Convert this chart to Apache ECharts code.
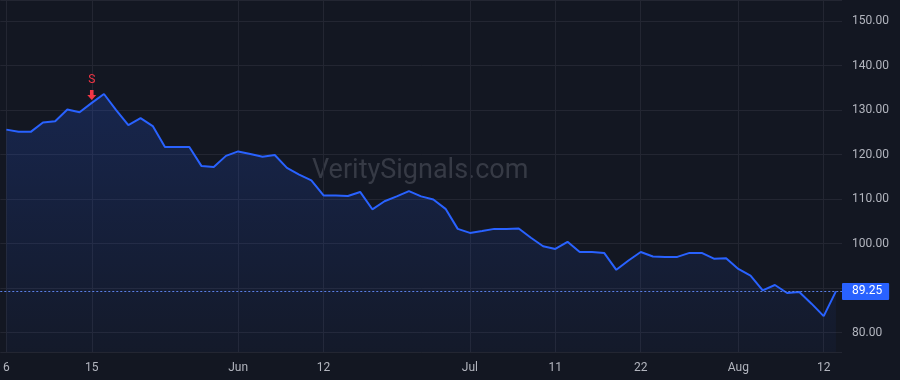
<!DOCTYPE html>
<html>
<head>
    <meta charset="UTF-8">
    <title>Price chart</title>
    <script src="https://cdn.jsdelivr.net/npm/echarts@6/dist/echarts.min.js"></script>
    <style>
        html, body { margin: 0; padding: 0; background: #131722; }
        #chart { width: 900px; height: 380px; }
    </style>
</head>
<body>
    <div id="chart"></div>

    <script>
        // Trading days (May 6 - Aug 13)
        var dates = [
            '2024-05-06', '2024-05-07', '2024-05-08', '2024-05-09', '2024-05-10', '2024-05-13', '2024-05-14',
            '2024-05-15', '2024-05-16', '2024-05-17', '2024-05-20', '2024-05-21', '2024-05-22', '2024-05-23',
            '2024-05-24', '2024-05-28', '2024-05-29', '2024-05-30', '2024-05-31',
            '2024-06-03', '2024-06-04', '2024-06-05', '2024-06-06', '2024-06-07', '2024-06-10', '2024-06-11',
            '2024-06-12', '2024-06-13', '2024-06-14', '2024-06-17', '2024-06-18', '2024-06-20', '2024-06-21',
            '2024-06-24', '2024-06-25', '2024-06-26', '2024-06-27', '2024-06-28',
            '2024-07-01', '2024-07-02', '2024-07-03', '2024-07-05', '2024-07-08', '2024-07-09', '2024-07-10',
            '2024-07-11', '2024-07-12', '2024-07-15', '2024-07-16', '2024-07-17', '2024-07-18', '2024-07-19',
            '2024-07-22', '2024-07-23', '2024-07-24', '2024-07-25', '2024-07-26', '2024-07-29', '2024-07-30',
            '2024-07-31',
            '2024-08-01', '2024-08-02', '2024-08-05', '2024-08-06', '2024-08-07', '2024-08-08', '2024-08-09',
            '2024-08-12', '2024-08-13'
        ];

        var closes = [
            125.6, 125.1, 125.1, 127.2, 127.5, 130.1, 129.5,
            131.6, 133.6, 130.0, 126.6, 128.2, 126.4, 121.7,
            121.7, 121.7, 117.4, 117.2, 119.7,
            120.7, 120.1, 119.5, 119.9, 117.0, 115.5, 114.2,
            110.8, 110.8, 110.7, 111.6, 107.7, 109.5, 110.6,
            111.8, 110.6, 109.9, 107.8, 103.3,
            102.4, 102.8, 103.3, 103.3, 103.4, 101.3, 99.4,
            98.8, 100.4, 98.1, 98.1, 97.9, 94.1, 96.2,
            98.1, 97.1, 97.0, 97.0, 97.9, 97.9, 96.6,
            96.7,
            94.3, 92.8, 89.5, 90.7, 88.9, 89.1, 86.5,
            83.7, 89.25
        ];

        // x axis tick labels
        var tickDates = ['2024-05-06', '2024-05-15', '2024-06-03', '2024-06-12', '2024-07-01',
                         '2024-07-11', '2024-07-22', '2024-08-01', '2024-08-12'];
        var tickLabels = ['6', '15', 'Jun', '12', 'Jul', '11', '22', 'Aug', '12'];

        var signalDate = '2024-05-15';
        var signalText = 'S';
        var lastPrice = 89.25;

        function isTick(index) {
            return tickDates.indexOf(dates[index]) >= 0;
        }

        var chart = echarts.init(document.getElementById('chart'));

        var option = {
            backgroundColor: '#131722',
            animation: false,
            textStyle: { fontFamily: 'Roboto, "Liberation Sans", sans-serif' },
            grid: { left: 0, right: 58, top: 0, bottom: 28 },
            graphic: [{
                type: 'text',
                left: 312,
                top: 158,
                silent: true,
                style: {
                    text: 'VeritySignals.com',
                    fill: 'rgba(120,123,134,0.35)',
                    font: '27px Roboto, "Liberation Sans", sans-serif'
                }
            }],
            xAxis: {
                type: 'category',
                data: dates,
                boundaryGap: true,
                axisLine: { show: false },
                axisTick: { show: false },
                axisLabel: {
                    interval: function (index) { return isTick(index); },
                    formatter: function (value) {
                        var i = tickDates.indexOf(value);
                        return i >= 0 ? tickLabels[i] : '';
                    },
                    color: '#b2b5be',
                    fontSize: 12,
                    margin: 10
                },
                splitLine: {
                    show: true,
                    alignWithLabel: true,
                    interval: function (index) { return isTick(index); },
                    lineStyle: { color: '#232632', width: 1 }
                }
            },
            yAxis: {
                type: 'value',
                position: 'right',
                min: 75.64,
                max: 154.72,
                splitNumber: 8,
                axisLine: { show: false },
                axisTick: { show: false },
                axisLabel: {
                    showMinLabel: false,
                    showMaxLabel: false,
                    // the price tag hides the level right next to it
                    formatter: function (v) {
                        return Math.abs(v - lastPrice) < 3 ? '' : v.toFixed(2);
                    },
                    color: '#b2b5be',
                    fontSize: 12,
                    margin: 10
                },
                splitLine: { lineStyle: { color: '#232632', width: 1 } }
            },
            series: [{
                type: 'line',
                data: closes,
                symbol: 'none',
                lineStyle: { color: '#2962ff', width: 2 },
                areaStyle: {
                    color: new echarts.graphic.LinearGradient(0, 0, 0, 1, [
                        { offset: 0, color: 'rgba(41,98,255,0.28)' },
                        { offset: 1, color: 'rgba(41,98,255,0.05)' }
                    ])
                },
                markLine: {
                    silent: true,
                    symbol: 'none',
                    lineStyle: { color: '#5b7fe6', type: [2, 2], width: 1 },
                    label: {
                        position: 'end',
                        formatter: lastPrice.toFixed(2),
                        color: '#ffffff',
                        fontSize: 12,
                        backgroundColor: '#2962ff',
                        padding: [3, 7, 2, 10],
                        borderRadius: 1,
                        distance: 0
                    },
                    data: [{ yAxis: lastPrice }]
                },
                markPoint: {
                    silent: true,
                    symbol: 'path://M3,0 L7,0 L7,5 L10,5 L5,10 L0,5 L3,5 Z',
                    symbolSize: [9, 10],
                    symbolOffset: [0, -8],
                    itemStyle: { color: '#f23645' },
                    label: {
                        show: true,
                        position: 'top',
                        distance: 4,
                        formatter: signalText,
                        color: '#f23645',
                        fontSize: 12
                    },
                    data: [{
                        coord: [signalDate, closes[dates.indexOf(signalDate)]]
                    }]
                }
            }]
        };

        chart.setOption(option);
    </script>
</body>
</html>
